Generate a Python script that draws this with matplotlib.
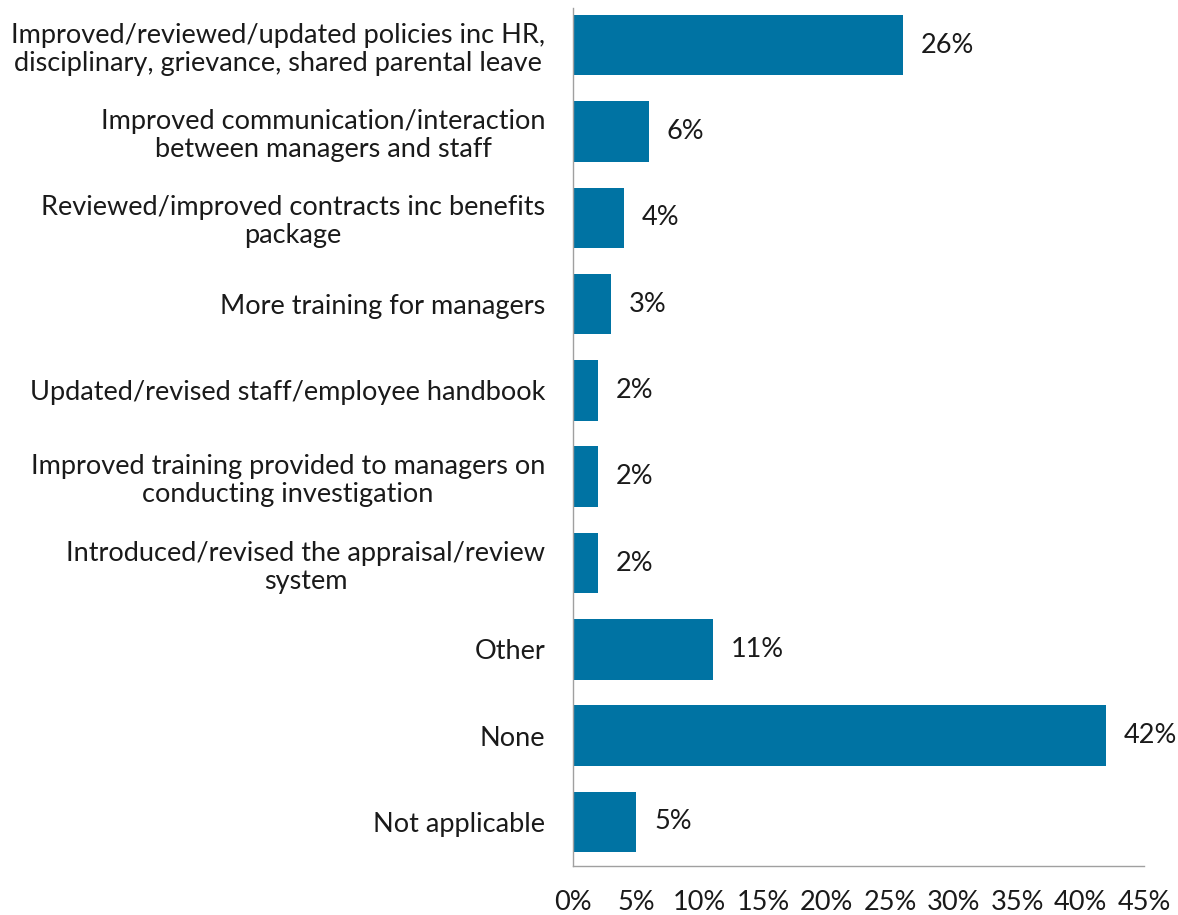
import matplotlib
matplotlib.use("Agg")
import matplotlib.pyplot as plt
from matplotlib.ticker import FuncFormatter

categories = [
    "Improved/reviewed/updated policies inc HR,\ndisciplinary, grievance, shared parental leave",
    "Improved communication/interaction\nbetween managers and staff",
    "Reviewed/improved contracts inc benefits\npackage",
    "More training for managers",
    "Updated/revised staff/employee handbook",
    "Improved training provided to managers on\nconducting investigation",
    "Introduced/revised the appraisal/review\nsystem",
    "Other",
    "None",
    "Not applicable",
]
values = [26, 6, 4, 3, 2, 2, 2, 11, 42, 5]
xticks = [0, 5, 10, 15, 20, 25, 30, 35, 40, 45]

plt.rcParams['font.family'] = ['Lato', 'DejaVu Sans']
FS = 19.5
TXT = "#1a1a1a"

fig = plt.figure(figsize=(11.78, 9.15), dpi=100)
ax = fig.add_axes([573/1178, 1 - 866/915, (1144 - 573)/1178, (866 - 8)/915])

ypos = list(range(len(categories)))
ax.barh(ypos, values, height=0.7, color="#0073A3")
for y, v in zip(ypos, values):
    ax.text(v + 1.4, y, f"{v}%", va="center", ha="left", fontsize=FS, color=TXT)

ax.set_ylim(9.51, -0.43)
ax.set_xlim(0, 45)
ax.set_yticks(ypos)
ax.set_yticklabels(categories, multialignment="center", fontsize=FS, color=TXT,
                   linespacing=1.15)
ax.set_xticks(xticks)
ax.xaxis.set_major_formatter(FuncFormatter(lambda x, p: f"{int(x)}%"))
ax.tick_params(axis="x", length=0, pad=17, labelsize=FS, labelcolor=TXT)
ax.tick_params(axis="y", length=0, pad=20)

for s in ["top", "right"]:
    ax.spines[s].set_visible(False)
for s in ["left", "bottom"]:
    ax.spines[s].set_color("#A0A0A0")
    ax.spines[s].set_linewidth(1)

fig.savefig("out.png", dpi=100)
